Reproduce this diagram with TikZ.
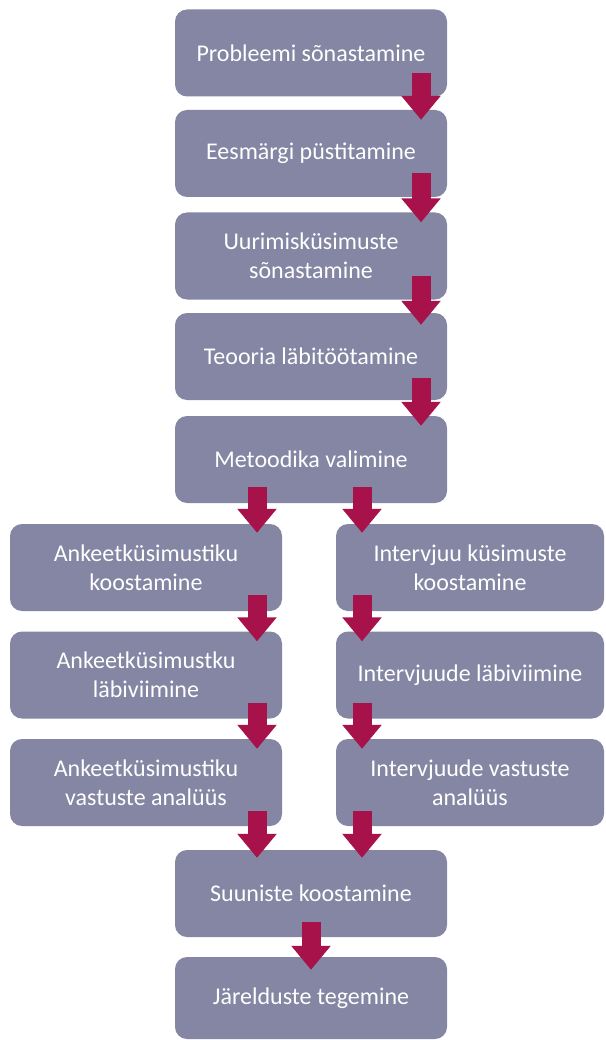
\documentclass[tikz,border=0pt]{standalone}
\usepackage{fontspec}
\setmainfont{Carlito}
\usetikzlibrary{arrows.meta,calc}
\definecolor{boxc}{HTML}{8486A3}
\definecolor{arrc}{HTML}{A8124A}
\begin{document}
\begin{tikzpicture}[x=1pt,y=-1pt,
  box/.style={fill=boxc, rounded corners=12pt, text=white,
    font=\fontsize{24}{29}\selectfont, align=center,
    minimum width=272pt, minimum height=87pt, inner sep=0pt},
  rbox/.style={box, minimum width=268pt},
  bigarrow/.style={draw=arrc, line width=19pt,
    -{Triangle[width=38pt,length=24pt]}}]
\useasboundingbox (0,0) rectangle (605,1040);
% main column
\node[box] (b1) at (311,53) {Probleemi sõnastamine};
\node[box] (b2) at (311,153.5) {Eesmärgi püstitamine};
\node[box] (b3) at (311,256) {Uurimisküsimuste\\sõnastamine};
\node[box] (b4) at (311,356.5) {Teooria läbitöötamine};
\node[box] (b5) at (311,459.5) {Metoodika valimine};
% left column
\node[box] (b6) at (146,567.5) {Ankeetküsimustiku\\koostamine};
\node[box] (b7) at (146,675) {Ankeetküsimustku\\läbiviimine};
\node[box] (b8) at (146,782.5) {Ankeetküsimustiku\\vastuste analüüs};
% right column
\node[rbox] (b9) at (470,567.5) {Intervjuu küsimuste\\koostamine};
\node[rbox] (b10) at (470,675) {Intervjuude läbiviimine};
\node[rbox] (b11) at (470,782.5) {Intervjuude vastuste\\analüüs};
% bottom
\node[box] (b12) at (311,893.5) {Suuniste koostamine};
\node[box, minimum height=82pt] (b13) at (311,998) {Järelduste tegemine};
% arrows
\draw[bigarrow] ($(b1.south)+(110,-24)$) -- ($(b2.north)+(110,10)$);
\draw[bigarrow] ($(b2.south)+(110,-24)$) -- ($(b3.north)+(110,10)$);
\draw[bigarrow] ($(b3.south)+(110,-24)$) -- ($(b4.north)+(110,12)$);
\draw[bigarrow] ($(b4.south)+(110,-22)$) -- ($(b5.north)+(110,10)$);
\draw[bigarrow] ($(b5.south)+(-54,-16)$) -- ($(b6.north)+(111,9)$);
\draw[bigarrow] ($(b5.south)+(51,-16)$) -- ($(b9.north)+(-108,9)$);
\draw[bigarrow] ($(b6.south)+(111,-16)$) -- ($(b7.north)+(111,10)$);
\draw[bigarrow] ($(b9.south)+(-108,-16)$) -- ($(b10.north)+(-108,10)$);
\draw[bigarrow] ($(b7.south)+(111,-16)$) -- ($(b8.north)+(111,10)$);
\draw[bigarrow] ($(b10.south)+(-108,-16)$) -- ($(b11.north)+(-108,10)$);
\draw[bigarrow] ($(b8.south)+(111,-15)$) -- ($(b12.north)+(-54,8)$);
\draw[bigarrow] ($(b11.south)+(-108,-15)$) -- ($(b12.north)+(51,8)$);
\draw[bigarrow] ($(b12.south)+(0,-15)$) -- ($(b13.north)+(0,13)$);
\end{tikzpicture}
\end{document}
